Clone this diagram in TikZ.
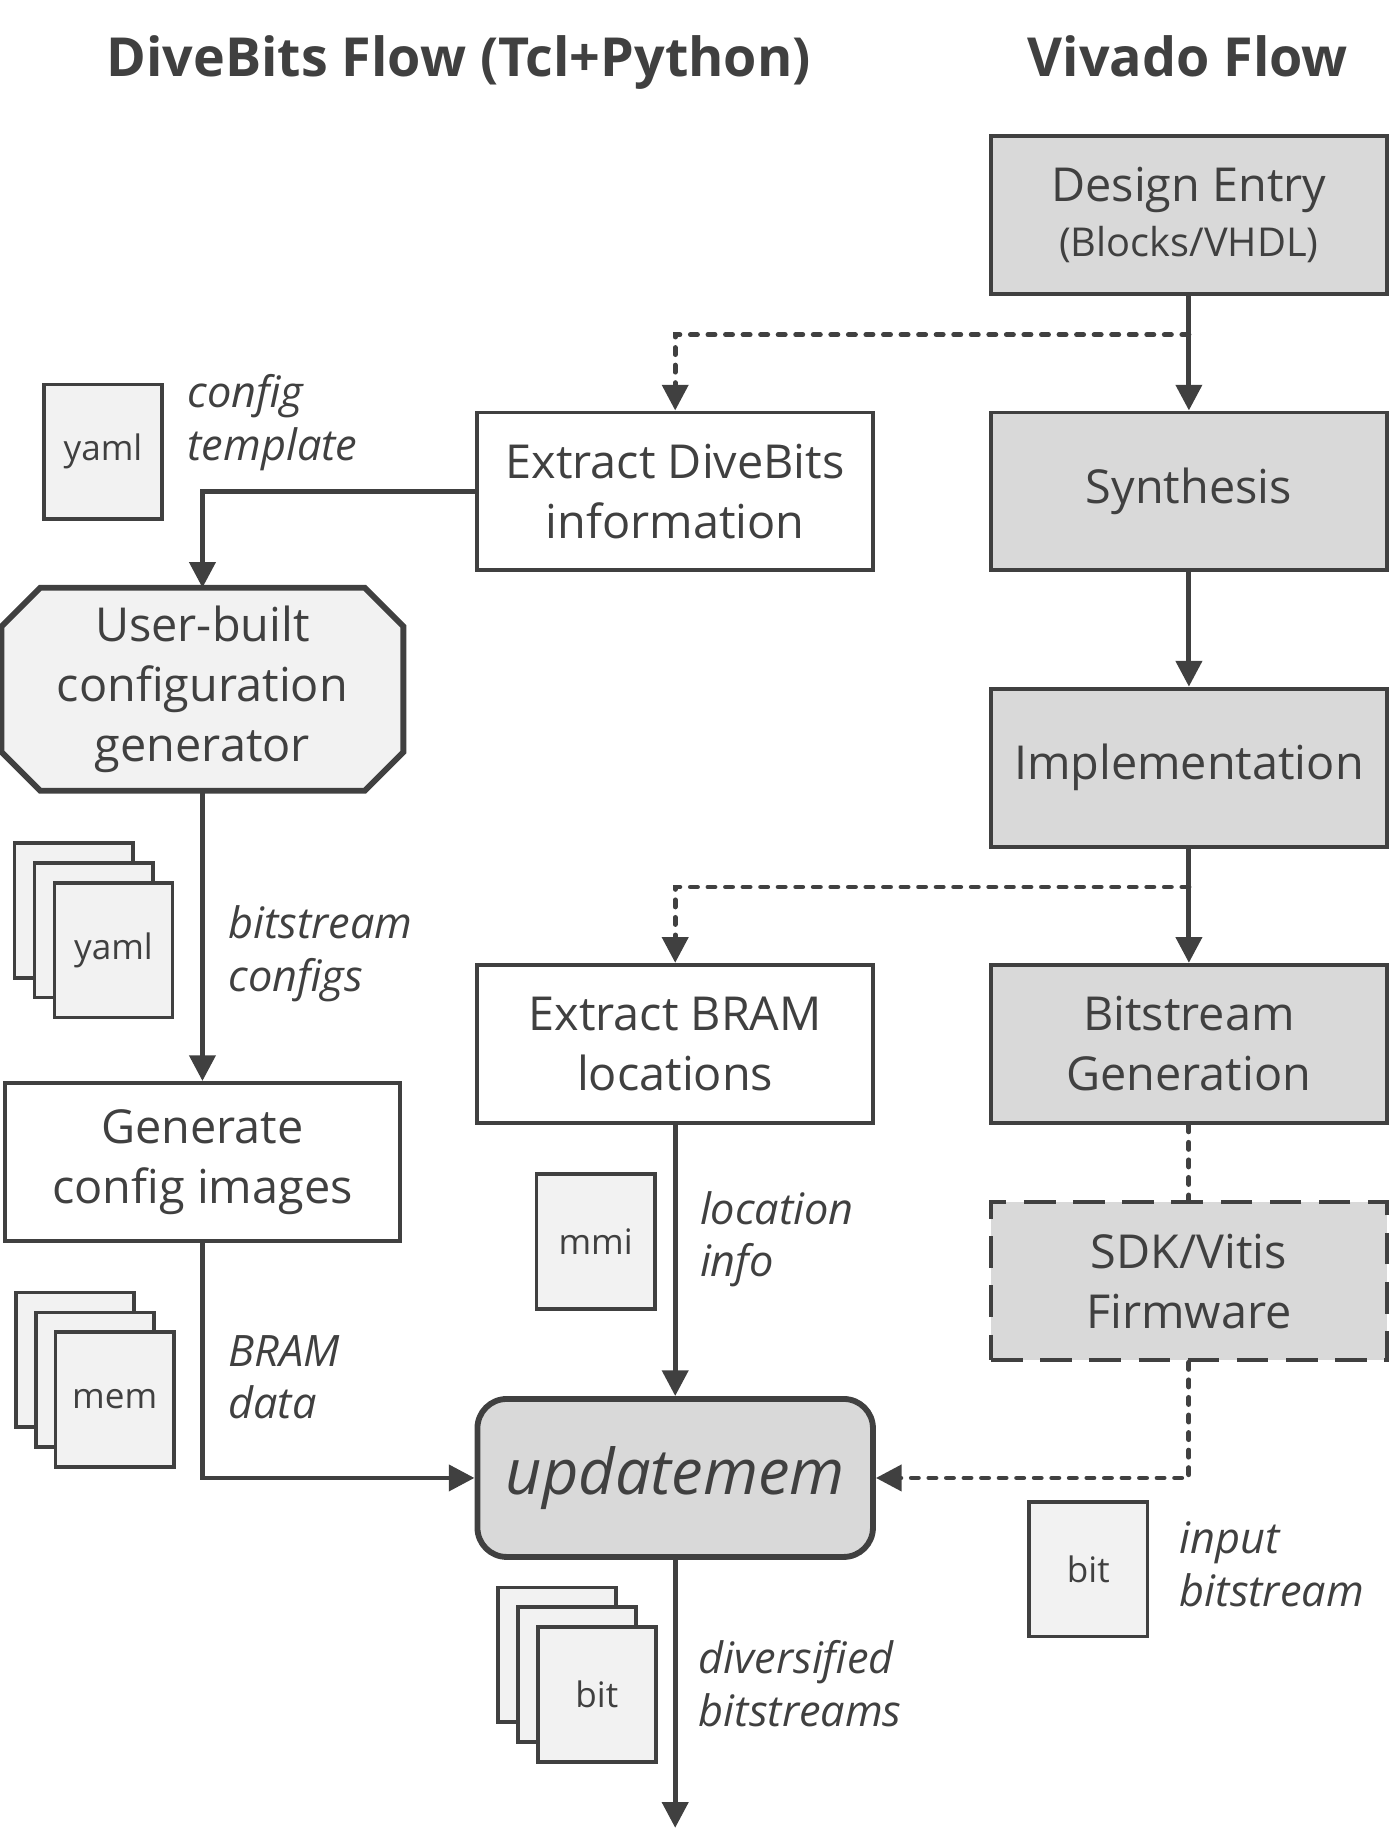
\documentclass[tikz,border=0pt]{standalone}
\usepackage{fontspec}
\setmainfont{Open Sans}
\usetikzlibrary{arrows.meta,backgrounds}
\definecolor{ink}{HTML}{404040}
\definecolor{boxgray}{HTML}{D9D9D9}
\definecolor{docgray}{HTML}{F2F2F2}
\tikzset{
  proc/.style={draw=ink, line width=3.4pt, fill=white, text=ink, minimum width=338pt,
    minimum height=135pt, align=center, inner sep=0pt, font=\fontsize{40}{51}\selectfont},
  vivado/.style={proc, fill=boxgray},
  doc/.style={draw=ink, line width=3.2pt, fill=docgray, text=ink, minimum width=101pt,
    minimum height=115pt, inner sep=0pt, font=\fontsize{30}{36}\selectfont},
  lbl/.style={anchor=west, align=left, text=ink, inner sep=0pt,
    font=\fontsize{37}{45}\selectfont\itshape},
  tip/.style={-{Triangle[length=22pt,width=22pt]}},
  flow/.style={draw=ink, line width=4.2pt, tip},
  dots/.style={draw=ink, line width=4.2pt, line cap=round, dash pattern=on 6pt off 9pt},
  ttl/.style={text=ink, anchor=base, font=\fontsize{46}{50}\selectfont\bfseries}
}
\begin{document}
\begin{tikzpicture}[x=1pt,y=-1pt]
\useasboundingbox (0,0) rectangle (1190,1563);
% titles
\node[ttl] (t1) at (392,65) {DiveBits Flow (Tcl+Python)};
\node[ttl] (t2) at (1015,65) {Vivado Flow};
% vivado column
\node[vivado] (dentry) at (1016,184) {Design Entry\\[-4pt]{\fontsize{34}{36}\selectfont(Blocks/VHDL)}};
\node[vivado] (synth) at (1016,420) {Synthesis};
\node[vivado] (impl) at (1016,656) {Implementation};
\node[vivado] (bitgen) at (1016,892) {Bitstream\\Generation};
\node[vivado, dash pattern=on 27pt off 15pt] (sdk) at (1016,1095) {SDK/Vitis\\Firmware};
% divebits column
\node[proc] (exdb) at (577,420) {Extract DiveBits\\information};
\node[proc] (exbram) at (577,892) {Extract BRAM\\locations};
\node[proc, fill=boxgray, rounded corners=25pt, line width=5pt,
  font=\fontsize{54}{60}\selectfont\itshape] (upd) at (577,1263) {updatemem};
\node[proc, draw=none, fill=none, minimum width=340pt, minimum height=170pt] (ugen) at (173,589) {User-built\\configuration\\generator};
\begin{scope}[on background layer]
\draw[ink, line width=5pt, fill=docgray] ([xshift=33pt]ugen.north west) -- ([xshift=-33pt]ugen.north east)
  -- ([yshift=-33pt]ugen.north east) -- ([yshift=33pt]ugen.south east) -- ([xshift=-33pt]ugen.south east)
  -- ([xshift=33pt]ugen.south west) -- ([yshift=33pt]ugen.south west) -- ([yshift=-33pt]ugen.north west) -- cycle;
\end{scope}
\node[proc] (gencfg) at (173,993) {Generate\\config images};
% files
\node[doc] (yaml) at (88,386) {yaml};
\node[doc] (yaml3) at (63,778) {};
\node[doc] (yaml2) at (80,795) {};
\node[doc] (yaml1) at (97,812) {yaml};
\node[doc] (mem3) at (64,1162) {};
\node[doc] (mem2) at (81,1179) {};
\node[doc] (mem1) at (98,1196) {mem};
\node[doc] (mmi) at (509,1061) {mmi};
\node[doc] (bit3) at (476,1414) {};
\node[doc] (bit2) at (493,1431) {};
\node[doc] (bit1) at (510,1448) {bit};
\node[doc] (bitin) at (930,1341) {bit};
% labels
\node[lbl] (l1) at (160,361) {config\\template};
\node[lbl] (l2) at (195,815) {bitstream\\configs};
\node[lbl] (l3) at (195,1177) {BRAM\\data};
\node[lbl] (l4) at (598,1059) {location\\info};
\node[lbl] (l5) at (597,1439) {diversified\\bitstreams};
\node[lbl] (l6) at (1008,1337) {input\\bitstream};
% connectors
\coordinate (br1) at (1016,286);
\coordinate (br2) at (1016,758);
\coordinate (out) at (577,1562);
\draw[flow] (dentry) -- (synth);
\draw[flow] (synth) -- (impl);
\draw[flow] (impl) -- (bitgen);
\draw[dots, tip] (br1) -| (exdb.north);
\draw[dots, tip] (br2) -| (exbram.north);
\draw[flow] (exdb.west) -| (ugen.north);
\draw[flow] (ugen) -- (gencfg);
\draw[flow] (gencfg.south) |- (upd.west);
\draw[flow] (exbram) -- (upd);
\draw[dots] (bitgen) -- (sdk);
\draw[dots, tip] (sdk.south) |- (upd.east);
\draw[flow] (upd) -- (out);
\end{tikzpicture}
\end{document}
